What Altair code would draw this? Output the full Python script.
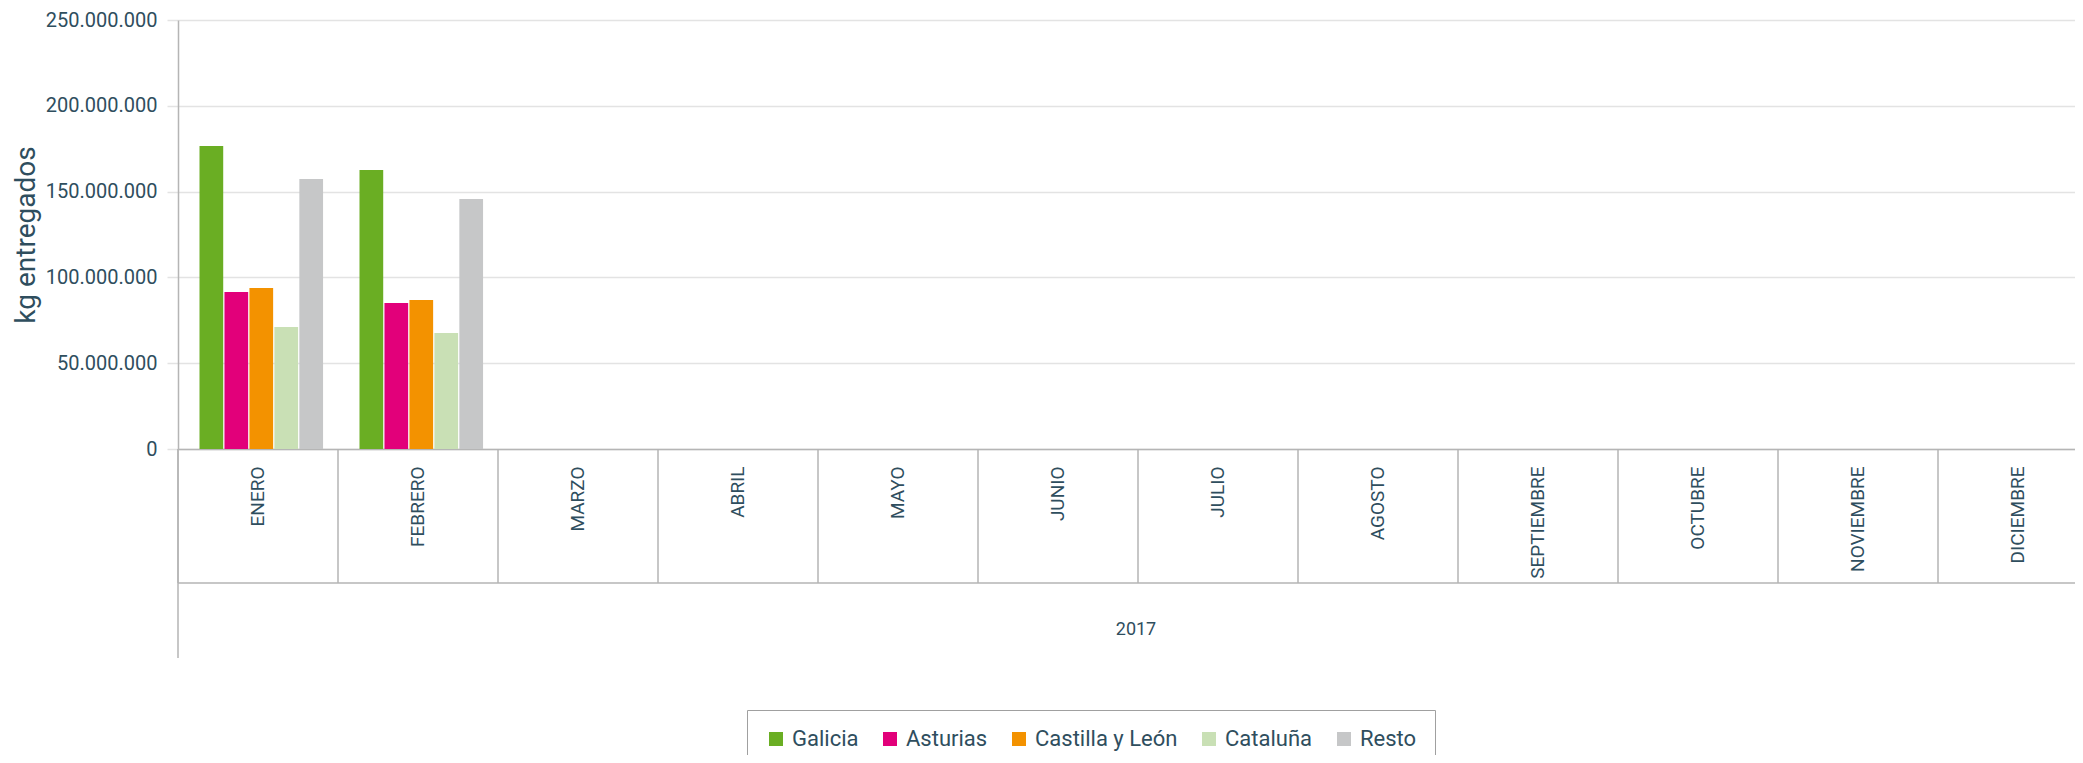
import altair as alt
import pandas as pd

months = ["ENERO", "FEBRERO", "MARZO", "ABRIL", "MAYO", "JUNIO", "JULIO",
          "AGOSTO", "SEPTIEMBRE", "OCTUBRE", "NOVIEMBRE", "DICIEMBRE"]
regions = ["Galicia", "Asturias", "Castilla y León", "Cataluña", "Resto"]
colors = ["#6AAE23", "#E2007A", "#F39200", "#C9E0B5", "#C6C7C8"]
data_months = ["ENERO", "FEBRERO"]
galicia = [176600000, 162600000]
asturias = [91500000, 85100000]
castilla = [93800000, 86800000]
cataluna = [71100000, 67600000]
resto = [157300000, 145700000]
y_ticks = [0, 50000000, 100000000, 150000000, 200000000, 250000000]
year_label = ["2017"]

rows = []
for name, vals in zip(regions, [galicia, asturias, castilla, cataluna, resto]):
    for m, v in zip(data_months, vals):
        rows.append({"mes": m, "region": name, "kg": v})
df = pd.DataFrame(rows)

W = 1897
H = 429
FULLW = 1920
FONT = "Roboto"
TXT = "#2F4E5E"
LINE = "#B5B5B5"

xscale = alt.Scale(domain=months, range=[0, FULLW], paddingInner=0, paddingOuter=0)
xaxis = alt.Axis(labelAngle=270, ticks=False, domain=True, domainColor=LINE, domainWidth=1.5,
                 labelFont=FONT, labelFontSize=19, labelColor=TXT, labelPadding=17,
                 labelAlign="right", labelBaseline="middle", grid=False)

bars = alt.Chart(df).mark_bar().encode(
    x=alt.X("mes:N", scale=xscale, axis=xaxis, title=None),
    xOffset=alt.XOffset("region:N", sort=regions,
                        scale=alt.Scale(domain=regions, paddingOuter=0.73, paddingInner=0.05,
                                        align=0.59)),
    y=alt.Y("kg:Q", scale=alt.Scale(domain=[0, 250000000], nice=False),
            title="kg entregados",
            axis=alt.Axis(values=y_ticks,
                          labelExpr="replace(replace(format(datum.value, ','), ',', '.'), ',', '.')",
                          grid=True, gridColor="#E3E3E3", gridWidth=1.5,
                          ticks=True, tickColor="#E3E3E3", tickSize=11, tickWidth=1.5,
                          domainColor=LINE, domainWidth=1.5,
                          labelFont=FONT, labelFontSize=20, labelColor=TXT, labelPadding=10,
                          titleFont=FONT, titleFontSize=28, titleColor=TXT,
                          titleFontWeight="normal", titlePadding=5)),
    color=alt.Color("region:N", scale=alt.Scale(domain=regions, range=colors),
                    legend=alt.Legend(title=None, orient="none", legendX=569, legendY=690,
                                      direction="horizontal", symbolType="square",
                                      symbolSize=196, symbolStrokeWidth=0,
                                      labelFont=FONT, labelFontSize=22, labelColor=TXT,
                                      columnPadding=20, labelOffset=5,
                                      strokeColor="#A0A0A0", padding=18, fillColor="white")),
)

sep_df = pd.DataFrame({"mes": months})
seps = alt.Chart(sep_df).mark_rule(color=LINE, strokeWidth=1.5).encode(
    x=alt.X("mes:N", scale=xscale, axis=xaxis, title=None, bandPosition=0),
    y=alt.value(H),
    y2=alt.value(H + 134),
)

hline = alt.Chart(pd.DataFrame({"k": [0]})).mark_rule(color=LINE, strokeWidth=1.5).encode(
    x=alt.value(0), x2=alt.value(FULLW), y=alt.value(H + 134))

yext = alt.Chart(pd.DataFrame({"k": [0]})).mark_rule(color=LINE, strokeWidth=1.5).encode(
    x=alt.value(0), y=alt.value(H), y2=alt.value(H + 209))

year = alt.Chart(pd.DataFrame({"t": year_label})).mark_text(
    font=FONT, fontSize=18, color=TXT, align="center", baseline="middle").encode(
    text="t:N", x=alt.value(FULLW / 2 - 2), y=alt.value(610))

chart = alt.layer(bars, seps, hline, yext, year).properties(
    width=W, height=H,
    autosize=alt.AutoSizeParams(type="none"),
    padding={"left": 170, "top": 12, "right": 0, "bottom": 306},
    background="white",
).configure_view(stroke=None)

chart.save("out.html", embed_options={"renderer": "svg", "actions": False})
